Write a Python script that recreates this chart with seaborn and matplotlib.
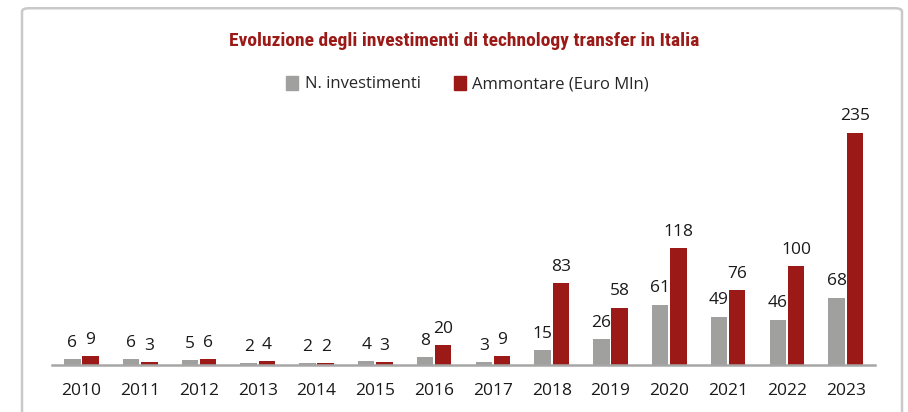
import pandas as pd
import numpy as np
import matplotlib.pyplot as plt
import matplotlib.patches as mpatches
import seaborn as sns

years = ["2010", "2011", "2012", "2013", "2014", "2015", "2016",
         "2017", "2018", "2019", "2020", "2021", "2022", "2023"]
n_investimenti = [6, 6, 5, 2, 2, 4, 8, 3, 15, 26, 61, 49, 46, 68]
ammontare = [9, 3, 6, 4, 2, 3, 20, 9, 83, 58, 118, 76, 100, 235]
series_names = ["N. investimenti", "Ammontare (Euro Mln)"]
title = "Evoluzione degli investimenti di technology transfer in Italia"

gray = "#A0A09F"
red = "#9B1A17"

df = pd.DataFrame({
    "anno": years * 2,
    "serie": [series_names[0]] * len(years) + [series_names[1]] * len(years),
    "valore": n_investimenti + ammontare,
})

sns.set_theme(style="white")
plt.rcParams["font.family"] = ["Open Sans", "DejaVu Sans"]

fig = plt.figure(figsize=(9.08, 4.12), dpi=100)
ax = fig.add_axes([0.0573, 0.114, 0.9064, 0.60])

sns.barplot(data=df, x="anno", y="valore", hue="serie", ax=ax,
            palette=[gray, red], width=0.62, gap=0.1, saturation=1,
            linewidth=0, legend=False)

for cont in ax.containers:
    ax.bar_label(cont, padding=6, fontsize=12.5, color="#1a1a1a")

ax.set_ylim(0, 250)
ax.set_xlim(-0.5, len(years) - 0.5)
ax.set_xlabel("")
ax.set_ylabel("")
ax.set_yticks([])
for s in ["top", "left", "right"]:
    ax.spines[s].set_visible(False)
ax.spines["bottom"].set_color("#A6A6A6")
ax.spines["bottom"].set_linewidth(1.8)
ax.tick_params(axis="x", length=0, pad=13, labelsize=12.5, labelcolor="#1a1a1a")

fig.text(0.511, 0.9, title, ha="center", va="center", fontsize=14,
         fontweight="bold", color=red,
         family=["Roboto Condensed", "Roboto", "DejaVu Sans"])

handles = [mpatches.Patch(color=gray, label=series_names[0]),
           mpatches.Patch(color=red, label=series_names[1])]
fig.legend(handles=handles, loc="center", bbox_to_anchor=(0.515, 0.796),
           ncol=2, frameon=False, fontsize=12, handlelength=0.7,
           handleheight=0.9, handletextpad=0.4, columnspacing=2.0)

frame = mpatches.FancyBboxPatch((22 / 908, -0.1), 880 / 908, 1.08,
                                boxstyle="round,pad=0,rounding_size=0.008",
                                transform=fig.transFigure, fill=False,
                                edgecolor="#C9C9C9", linewidth=1.8)
fig.patches.append(frame)

fig.savefig("out.png", dpi=100)
